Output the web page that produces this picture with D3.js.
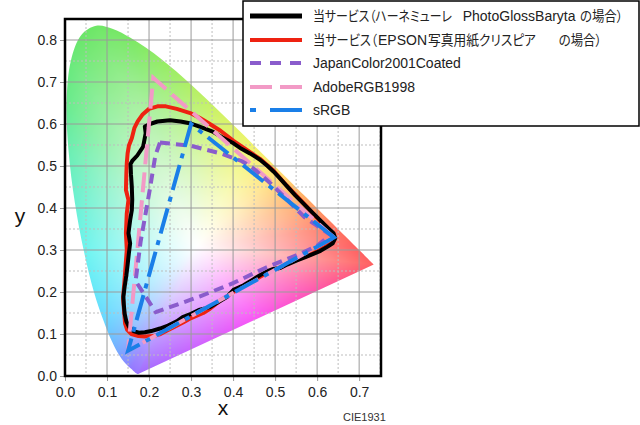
<!DOCTYPE html>
<html><head><meta charset="utf-8">
<script src="https://cdn.jsdelivr.net/npm/d3@7"></script>
<style>body{margin:0;background:#fff}svg{display:block}</style>
</head><body>
<svg id="chart" width="640" height="425"></svg>
<script>
// ---------- DATA ----------
const wavelengths = [380,385,390,395,400,405,410,415,420,425,430,435,440,445,450,455,460,465,470,475,480,485,490,495,500,505,510,515,520,525,530,535,540,545,550,555,560,565,570,575,580,585,590,595,600,605,610,615,620,625,630,635,640,645,650,655,660,665,670,680,690,700];
const locusX = [0.1741,0.1740,0.1738,0.1736,0.1733,0.1730,0.1726,0.1721,0.1714,0.1703,0.1689,0.1669,0.1644,0.1611,0.1566,0.1510,0.1440,0.1355,0.1241,0.1096,0.0913,0.0687,0.0454,0.0235,0.0082,0.0039,0.0139,0.0389,0.0743,0.1142,0.1547,0.1929,0.2296,0.2658,0.3016,0.3373,0.3731,0.4087,0.4441,0.4788,0.5125,0.5448,0.5752,0.6029,0.6270,0.6482,0.6658,0.6801,0.6915,0.7006,0.7079,0.7140,0.7190,0.7230,0.7260,0.7283,0.7300,0.7311,0.7320,0.7334,0.7344,0.7347];
const locusY = [0.0050,0.0050,0.0049,0.0049,0.0048,0.0048,0.0048,0.0048,0.0051,0.0058,0.0069,0.0086,0.0109,0.0138,0.0177,0.0227,0.0297,0.0399,0.0578,0.0868,0.1327,0.2007,0.2950,0.4127,0.5384,0.6548,0.7502,0.8120,0.8338,0.8262,0.8059,0.7816,0.7543,0.7243,0.6923,0.6589,0.6245,0.5896,0.5547,0.5202,0.4866,0.4544,0.4242,0.3965,0.3725,0.3514,0.3340,0.3197,0.3083,0.2993,0.2920,0.2859,0.2809,0.2770,0.2740,0.2717,0.2700,0.2689,0.2680,0.2666,0.2656,0.2653];

const xTicks = [0,0.1,0.2,0.3,0.4,0.5,0.6,0.7];
const yTicks = [0,0.1,0.2,0.3,0.4,0.5,0.6,0.7,0.8];
const xTickLabels = ["0.0","0.1","0.2","0.3","0.4","0.5","0.6","0.7"];
const yTickLabels = ["0.0","0.1","0.2","0.3","0.4","0.5","0.6","0.7","0.8"];
const xMinor = [0.05,0.15,0.25,0.35,0.45,0.55,0.65,0.75];
const yMinor = [0.05,0.15,0.25,0.35,0.45,0.55,0.65,0.75];

const seriesNames = ["PhotoGlossBaryta","EPSON","JapanColor2001Coated","AdobeRGB1998","sRGB"];

// 当サービス（ハーネミューレ PhotoGlossBaryta の場合）
const photoGlossBaryta = [[0.190,0.594],[0.202,0.600],[0.220,0.606],[0.250,0.609],[0.275,0.606],[0.300,0.601],[0.325,0.592],[0.353,0.581],[0.375,0.568],[0.401,0.554],[0.420,0.541],[0.440,0.530],[0.464,0.515],[0.482,0.500],[0.496,0.487],[0.512,0.470],[0.528,0.452],[0.548,0.430],[0.567,0.411],[0.590,0.388],[0.607,0.371],[0.625,0.353],[0.639,0.340],[0.643,0.328],[0.637,0.316],[0.625,0.308],[0.608,0.298],[0.591,0.291],[0.572,0.283],[0.552,0.275],[0.530,0.266],[0.512,0.257],[0.496,0.255],[0.485,0.251],[0.464,0.240],[0.448,0.230],[0.425,0.216],[0.401,0.205],[0.385,0.188],[0.365,0.176],[0.345,0.164],[0.321,0.158],[0.300,0.148],[0.280,0.140],[0.266,0.130],[0.245,0.120],[0.226,0.113],[0.205,0.107],[0.190,0.104],[0.176,0.103],[0.163,0.107],[0.153,0.116],[0.146,0.130],[0.142,0.148],[0.140,0.170],[0.139,0.189],[0.142,0.213],[0.146,0.240],[0.149,0.265],[0.152,0.292],[0.155,0.316],[0.151,0.340],[0.155,0.371],[0.159,0.395],[0.160,0.420],[0.159,0.450],[0.157,0.480],[0.156,0.505],[0.160,0.512],[0.172,0.525],[0.186,0.546],[0.192,0.578]];
// 当サービス（EPSON写真用紙クリスピア の場合）
const epsonCrispia = [[0.147,0.506],[0.149,0.530],[0.152,0.548],[0.159,0.566],[0.165,0.590],[0.173,0.606],[0.184,0.622],[0.200,0.636],[0.220,0.642],[0.240,0.642],[0.266,0.636],[0.298,0.626],[0.320,0.615],[0.340,0.603],[0.370,0.584],[0.401,0.560],[0.430,0.540],[0.464,0.517],[0.496,0.489],[0.528,0.453],[0.567,0.412],[0.605,0.371],[0.628,0.345],[0.637,0.331],[0.628,0.314],[0.608,0.301],[0.580,0.287],[0.552,0.277],[0.530,0.268],[0.512,0.258],[0.488,0.250],[0.448,0.227],[0.420,0.210],[0.401,0.200],[0.370,0.180],[0.345,0.160],[0.329,0.150],[0.300,0.138],[0.282,0.128],[0.260,0.117],[0.242,0.108],[0.225,0.099],[0.210,0.095],[0.190,0.094],[0.175,0.095],[0.158,0.100],[0.148,0.110],[0.143,0.125],[0.141,0.150],[0.138,0.185],[0.141,0.220],[0.144,0.260],[0.147,0.300],[0.145,0.340],[0.147,0.387],[0.151,0.419],[0.145,0.443],[0.146,0.482]];
const japanColor2001Coated = [[0.226,0.556],[0.300,0.548],[0.370,0.530],[0.420,0.512],[0.445,0.497],[0.490,0.458],[0.530,0.418],[0.570,0.378],[0.632,0.336],[0.600,0.310],[0.560,0.291],[0.480,0.259],[0.400,0.221],[0.320,0.189],[0.216,0.152],[0.168,0.226],[0.180,0.320],[0.202,0.445],[0.215,0.525]];
const adobeRGB1998 = [[0.64,0.33],[0.21,0.71],[0.15,0.06]];
const sRGB = [[0.64,0.33],[0.30,0.60],[0.15,0.06]];

// ---------- LAYOUT ----------
const W = 640, H = 425, L = 65, R = 381, T = 19, B = 376;
const x = d3.scaleLinear().domain([0, 0.752]).range([L, R]);
const y = d3.scaleLinear().domain([0, 0.85]).range([B, T]);
const svg = d3.select("#chart");
const FONT = "'Liberation Sans', Arial, 'Noto Sans CJK JP', sans-serif";
svg.append("rect").attr("width", W).attr("height", H).attr("fill", "#fff");

const line = d3.line().x(d => x(d[0])).y(d => y(d[1]));
const smooth = d3.line().x(d => x(d[0])).y(d => y(d[1])).curve(d3.curveCatmullRom.alpha(0.5));
const locus = wavelengths.map((w, i) => [locusX[i], locusY[i]]);

// ---------- CHROMATICITY FILL ----------
const wColor = d3.scaleLinear()
  .domain([380,450,465,475,482,490,497,505,515,530,545,560,572,580,590,605,620,700])
  .range(["rgb(160,110,255)","rgb(148,122,255)","rgb(128,150,255)","rgb(110,190,255)","rgb(100,225,255)","rgb(108,244,240)","rgb(108,240,200)","rgb(105,235,140)","rgb(106,230,105)","rgb(122,232,100)","rgb(160,238,100)","rgb(210,242,100)","rgb(245,245,110)","rgb(255,220,110)","rgb(255,170,100)","rgb(255,115,95)","rgb(255,96,96)","rgb(255,96,96)"]);
const pColor = d3.scaleLinear().domain([0,0.25,0.5,0.75,1])
  .range(["rgb(255,96,96)","rgb(255,85,175)","rgb(250,85,245)","rgb(205,100,255)","rgb(160,110,255)"]);

const bPts = locus.map((p, i) => ({p, c: d3.rgb(wColor(wavelengths[i]))}));
const pA = locus[locus.length - 1], pB = locus[0];
for (let t = 0.05; t < 1; t += 0.05) {
  bPts.push({p: [pA[0] + (pB[0] - pA[0]) * t, pA[1] + (pB[1] - pA[1]) * t], c: d3.rgb(pColor(t))});
}
const wp = [0.315, 0.31];
const N = 3600;
const lutR = new Float64Array(N), lutC = new Array(N);
const cross = (a, b) => a[0] * b[1] - a[1] * b[0];
for (let k = 0; k < N; k++) {
  const ang = k / N * 2 * Math.PI - Math.PI;
  const dir = [Math.cos(ang), Math.sin(ang)];
  let best = null;
  for (let i = 0; i < bPts.length; i++) {
    const P = bPts[i], Q = bPts[(i + 1) % bPts.length];
    const d = [Q.p[0] - P.p[0], Q.p[1] - P.p[1]];
    const den = cross(dir, d);
    if (Math.abs(den) < 1e-12) continue;
    const w = [P.p[0] - wp[0], P.p[1] - wp[1]];
    const s = cross(w, d) / den, u = cross(w, dir) / den;
    if (s > 0 && u >= -1e-9 && u <= 1 + 1e-9) {
      if (!best || s > best.s) best = {s, c: [P.c.r + (Q.c.r - P.c.r) * u, P.c.g + (Q.c.g - P.c.g) * u, P.c.b + (Q.c.b - P.c.b) * u]};
    }
  }
  lutR[k] = best ? best.s : 1;
  lutC[k] = best ? best.c : [255, 255, 255];
}
const cw = R - L, ch = B - T;
const canvas = document.createElement("canvas");
canvas.width = cw; canvas.height = ch;
const ctx = canvas.getContext("2d");
const img = ctx.createImageData(cw, ch);
for (let j = 0; j < ch; j++) {
  const dy = y.invert(T + j + 0.5) - wp[1];
  for (let i = 0; i < cw; i++) {
    const dx = x.invert(L + i + 0.5) - wp[0];
    const ang = Math.atan2(dy, dx);
    let k = Math.floor((ang + Math.PI) / (2 * Math.PI) * N); if (k >= N) k = 0;
    const r = Math.min(1, Math.hypot(dx, dy) / lutR[k]);
    const s = Math.pow(r, 1.1);
    const c = lutC[k];
    const o = (j * cw + i) * 4;
    img.data[o] = 255 + (c[0] - 255) * s;
    img.data[o + 1] = 255 + (c[1] - 255) * s;
    img.data[o + 2] = 255 + (c[2] - 255) * s;
    img.data[o + 3] = 255;
  }
}
ctx.putImageData(img, 0, 0);
svg.append("defs").append("clipPath").attr("id", "locusClip")
  .append("path").attr("d", smooth(locus) + "Z");
svg.append("image").attr("x", L).attr("y", T).attr("width", cw).attr("height", ch)
  .attr("preserveAspectRatio", "none")
  .attr("href", canvas.toDataURL()).attr("clip-path", "url(#locusClip)");

// ---------- GRID ----------
const grid = svg.append("g");
grid.selectAll(".vx").data(xMinor).join("line")
  .attr("x1", d => x(d)).attr("x2", d => x(d)).attr("y1", T).attr("y2", B)
  .attr("stroke", "#bdbdbd").attr("stroke-dasharray", "2,2").attr("stroke-width", 1);
grid.selectAll(".hy").data(yMinor).join("line")
  .attr("y1", d => y(d)).attr("y2", d => y(d)).attr("x1", L).attr("x2", R)
  .attr("stroke", "#bdbdbd").attr("stroke-dasharray", "2,2").attr("stroke-width", 1);
grid.selectAll(".Vx").data(xTicks.slice(1)).join("line")
  .attr("x1", d => x(d)).attr("x2", d => x(d)).attr("y1", T).attr("y2", B)
  .attr("stroke", "#9a9a9a").attr("stroke-width", 1);
grid.selectAll(".Hy").data(yTicks.slice(1)).join("line")
  .attr("y1", d => y(d)).attr("y2", d => y(d)).attr("x1", L).attr("x2", R)
  .attr("stroke", "#9a9a9a").attr("stroke-width", 1);

// ---------- AXES ----------
const xAxis = d3.axisBottom(x).tickValues(xTicks).tickFormat((d, i) => xTickLabels[i]).tickSize(5).tickPadding(6);
const yAxis = d3.axisLeft(y).tickValues(yTicks).tickFormat((d, i) => yTickLabels[i]).tickSize(5).tickPadding(3);
const gx = svg.append("g").attr("transform", `translate(0,${B})`).call(xAxis);
const gy = svg.append("g").attr("transform", `translate(${L},0)`).call(yAxis);
[gx, gy].forEach(g => {
  g.select(".domain").remove();
  g.selectAll(".tick line").attr("stroke", "#999");
  g.selectAll(".tick text").attr("font-family", FONT).attr("font-size", 14).attr("fill", "#222");
});

// ---------- SERIES ----------
const closed = pts => line(pts) + "Z";
svg.append("path").attr("d", closed(epsonCrispia)).attr("fill", "none")
  .attr("stroke", "#ee2211").attr("stroke-width", 4).attr("stroke-linejoin", "round");
svg.append("path").attr("d", closed(photoGlossBaryta)).attr("fill", "none")
  .attr("stroke", "#000").attr("stroke-width", 4).attr("stroke-linejoin", "round");
svg.append("path").attr("d", closed(adobeRGB1998)).attr("fill", "none")
  .attr("stroke", "#f29ac6").attr("stroke-width", 4).attr("stroke-dasharray", "20,8");
svg.append("path").attr("d", closed(japanColor2001Coated)).attr("fill", "none")
  .attr("stroke", "#8a5ccc").attr("stroke-width", 4).attr("stroke-dasharray", "10,6");
svg.append("path").attr("d", closed(sRGB)).attr("fill", "none")
  .attr("stroke", "#1a7fe8").attr("stroke-width", 4).attr("stroke-dasharray", "26,7,5,7");

// ---------- FRAME ----------
svg.append("rect").attr("x", L).attr("y", T).attr("width", R - L).attr("height", B - T)
  .attr("fill", "none").attr("stroke", "#000").attr("stroke-width", 2.5);

// ---------- AXIS TITLES ----------
svg.append("text").attr("x", 223).attr("y", 415).attr("text-anchor", "middle")
  .attr("font-family", FONT).attr("font-size", 21).attr("fill", "#111").text("x");
svg.append("text").attr("x", 20).attr("y", 223).attr("text-anchor", "middle")
  .attr("font-family", FONT).attr("font-size", 21).attr("fill", "#111").text("y");
svg.append("text").attr("x", 343).attr("y", 420.5)
  .attr("font-family", FONT).attr("font-size", 11).attr("fill", "#333").text("CIE1931");

// ---------- LEGEND ----------
const lg = svg.append("g");
lg.append("rect").attr("x", 243).attr("y", 1).attr("width", 396).attr("height", 125)
  .attr("fill", "#fff").attr("stroke", "#000").attr("stroke-width", 1.5);
const legendRows = [
  {y: 16, stroke: "#000", w: 5, dash: null},
  {y: 40, stroke: "#ee2211", w: 4, dash: null},
  {y: 63, stroke: "#8a5ccc", w: 4, dash: "11,9"},
  {y: 87, stroke: "#f29ac6", w: 4, dash: "22,8"},
  {y: 110, stroke: "#1a7fe8", w: 4, dash: "6,14,32"}
];
legendRows.forEach(r => {
  lg.append("line").attr("x1", 250).attr("x2", 302).attr("y1", r.y).attr("y2", r.y)
    .attr("stroke", r.stroke).attr("stroke-width", r.w).attr("stroke-dasharray", r.dash);
});
const seg = (txt, xx, yy, len) => {
  const t = lg.append("text")
    .attr("font-family", FONT).attr("font-size", 14).attr("fill", "#222")
    .style("font-feature-settings", "'palt'").text(txt);
  if (len) {
    const nat = t.node().getComputedTextLength() || len;
    t.attr("transform", `translate(${xx},${yy + 5}) scale(${len / nat},1)`);
  } else {
    t.attr("x", xx).attr("y", yy + 5);
  }
};
seg("当サービス（ハーネミューレ", 313, 16, 139);
seg(seriesNames[0], 462.7, 16);
seg("の場合）", 580, 16, 43);
seg("当サービス（", 313, 40, 64);
seg(seriesNames[1], 378, 40);
seg("写真用紙クリスピア", 428, 40, 108);
seg("の場合）", 558.7, 40, 43);
seg(seriesNames[2], 313, 63);
seg(seriesNames[3], 313, 87);
seg(seriesNames[4], 313, 110);
</script>
</body></html>
